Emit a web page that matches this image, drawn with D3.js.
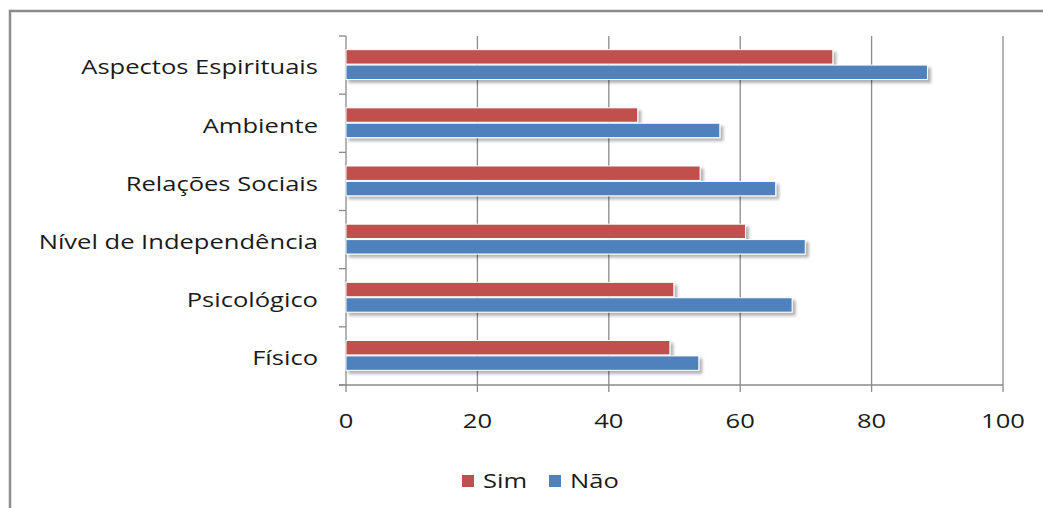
<!DOCTYPE html>
<html>
<head>
<meta charset="utf-8">
<script src="https://cdn.jsdelivr.net/npm/d3@7"></script>
<style>
  body { margin: 0; background: #fff; }
  text { font-family: "Open Sans", sans-serif; fill: #1a1a1a; }
</style>
</head>
<body>
<svg id="chart" width="1043" height="508"></svg>
<script>
// data
var categories = ["Aspectos Espirituais", "Ambiente", "Relações Sociais", "Nível de Independência", "Psicológico", "Físico"];
var series = ["Sim", "Não"];
var simValues = [74.1, 44.4, 53.9, 60.8, 49.9, 49.3];
var naoValues = [88.5, 56.9, 65.4, 69.9, 67.9, 53.7];
var xTicks = [0, 20, 40, 60, 80, 100];
var colors = { "Sim": "#C0504D", "Não": "#4F81BD" };

var svg = d3.select("#chart");
var stretch = 1.31; // the source picture is widened, so text is too
var fontSize = 19.5;

// shadow for the bars
var defs = svg.append("defs");
defs.append("filter").attr("id", "shadow")
   .attr("x", "-5%").attr("y", "-50%").attr("width", "115%").attr("height", "250%")
   .append("feDropShadow")
   .attr("dx", 3).attr("dy", 3).attr("stdDeviation", 1.8)
   .attr("flood-color", "#000").attr("flood-opacity", 0.3);

// outer frame (only top and left edges show)
svg.append("path")
   .attr("d", "M10,508 L10,11 L1043,11")
   .attr("fill", "none").attr("stroke", "#8c8c8c").attr("stroke-width", 2.5);

var x = d3.scaleLinear().domain([0, 100]).range([346, 1003]);
var y = d3.scaleBand().domain(categories).range([36, 385]).padding(0);
var inner = d3.scaleBand().domain(series)
   .range([y.bandwidth() * 0.235, y.bandwidth() * 0.765]).padding(0);

// grid lines
svg.append("g").selectAll("line")
   .data(xTicks.slice(1))
   .join("line")
   .attr("x1", d => x(d)).attr("x2", d => x(d))
   .attr("y1", 36).attr("y2", 392)
   .attr("stroke", "#8a8a8a").attr("stroke-width", 1.3);

// y axis line + category ticks
svg.append("line")
   .attr("x1", x(0)).attr("x2", x(0)).attr("y1", 36).attr("y2", 392)
   .attr("stroke", "#8a8a8a").attr("stroke-width", 1.3);
var bounds = categories.map(c => y(c)).concat([385]);
svg.append("g").selectAll("line")
   .data(bounds)
   .join("line")
   .attr("x1", x(0) - 7).attr("x2", x(0))
   .attr("y1", d => d).attr("y2", d => d)
   .attr("stroke", "#8a8a8a").attr("stroke-width", 1.3);

// x axis line
svg.append("line")
   .attr("x1", x(0) - 7).attr("x2", x(100)).attr("y1", 385).attr("y2", 385)
   .attr("stroke", "#8a8a8a").attr("stroke-width", 1.3);

// bars
var rows = categories.map((c, i) => ({ cat: c, vals: [
   { s: "Sim", v: simValues[i] },
   { s: "Não", v: naoValues[i] }
]}));

svg.append("g").selectAll("g")
   .data(rows)
   .join("g")
   .attr("transform", d => "translate(0," + y(d.cat) + ")")
   .selectAll("rect")
   .data(d => d.vals)
   .join("rect")
   .attr("x", x(0))
   .attr("y", d => inner(d.s))
   .attr("width", d => x(d.v) - x(0))
   .attr("height", inner.bandwidth() - 1)
   .attr("fill", d => colors[d.s])
   .attr("stroke", "#fff").attr("stroke-width", 1)
   .attr("filter", "url(#shadow)");

// category labels
svg.append("g").selectAll("g")
   .data(categories)
   .join("g")
   .attr("transform", d => "translate(318," + (y(d) + y.bandwidth() / 2 + 2) + ") scale(" + stretch + ",1)")
   .append("text")
   .attr("text-anchor", "end")
   .attr("dominant-baseline", "central")
   .attr("font-size", fontSize)
   .text(d => d);

// tick labels
svg.append("g").selectAll("g")
   .data(xTicks)
   .join("g")
   .attr("transform", d => "translate(" + x(d) + ",428) scale(" + stretch + ",1)")
   .append("text")
   .attr("text-anchor", "middle")
   .attr("font-size", fontSize)
   .text(d => d);

// legend
var legendPos = { "Sim": 462, "Não": 549 };
var lg = svg.append("g").selectAll("g")
   .data(series)
   .join("g")
   .attr("transform", d => "translate(" + legendPos[d] + ",475)");
lg.append("rect")
   .attr("width", 12).attr("height", 12)
   .attr("fill", d => colors[d]);
lg.append("g")
   .attr("transform", "translate(21,13) scale(" + stretch + ",1)")
   .append("text")
   .attr("font-size", fontSize)
   .text(d => d);
</script>
</body>
</html>
